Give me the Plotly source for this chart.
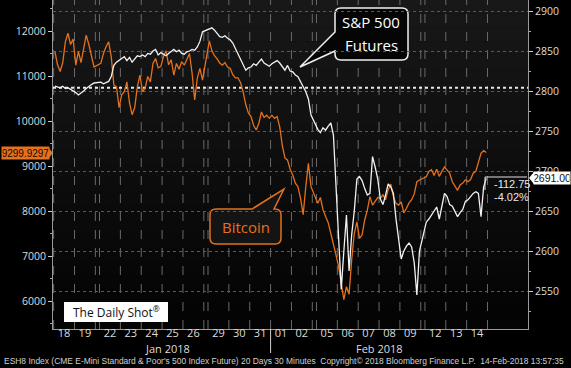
import plotly.graph_objects as go
from datetime import date

# ---------------- data ----------------
trading_days = ["2018-01-18", "2018-01-19", "2018-01-22", "2018-01-23", "2018-01-24",
                "2018-01-25", "2018-01-26", "2018-01-29", "2018-01-30", "2018-01-31",
                "2018-02-01", "2018-02-02", "2018-02-05", "2018-02-06", "2018-02-07",
                "2018-02-08", "2018-02-09", "2018-02-12", "2018-02-13", "2018-02-14"]
day_labels = ["18", "19", "22", "23", "24", "25", "26", "29", "30", "31",
              "01", "02", "05", "06", "07", "08", "09", "12", "13", "14"]
month_labels = ["Jan 2018", "Feb 2018"]
SAMPLES_PER_DAY = 8

# Bitcoin (left axis), 8 readings per trading day
btc = [
    11540, 11250, 11100, 11300, 11760, 11950, 11700, 11820,
    11240, 11540, 11300, 11650, 11910, 11700, 11430, 11200,
    11280, 11500, 11650, 11760, 11430, 10800, 10760, 10300,
    10580, 10650, 10870, 10400, 10140, 10300, 10760, 11020,
    10650, 10730, 10990, 10870, 11280, 11390, 11180, 11210,
    11430, 11560, 11250, 11360, 11020, 11280, 11150, 11320,
    11240, 11390, 11500, 11060, 10470, 10950, 11170, 10910,
    11780, 11560, 11450, 11380, 11290, 11240, 11300, 11200,
    11175, 11030, 10960, 10960, 10850, 10640, 10360, 10180,
    10100, 9900, 9800, 9950, 10200, 10080, 10130, 10060,
    10130, 10060, 10100, 9870, 9450, 9180, 9130, 8930,
    8800, 8620, 8540, 8280, 7920, 8540, 9060, 8540,
    8170, 8300, 8030, 7880, 7740, 7500, 7290, 7020,
    6760, 6400, 6030, 6320, 6150, 6910, 7500, 7760,
    7390, 7470, 7800, 8020, 8320, 8130, 8210, 8300,
    8280, 8360, 8250, 8470, 8600, 8320, 8170, 8130,
    8200, 7960, 8060, 8180, 8250, 8380, 8650, 8690,
    8760, 8880, 8920, 8790, 8930, 8770, 8880, 8980,
    8910, 8840, 8650, 8540, 8460, 8580, 8620, 8690,
    8650, 8700, 8840, 8880, 9060, 9280, 9340, 9299.9297,
]

# S&P 500 futures (right axis), 8 readings per trading day
spx = [
    2806, 2805, 2804, 2806, 2803, 2804, 2802, 2801,
    2798, 2795, 2797, 2800, 2803, 2806, 2808, 2810,
    2811, 2809, 2811, 2812, 2818, 2832, 2836, 2838,
    2840, 2843, 2838, 2842, 2836, 2840, 2844, 2843,
    2845, 2843, 2847, 2846, 2850, 2852, 2845, 2848,
    2846, 2844, 2847, 2850, 2852, 2849, 2851, 2847,
    2846, 2849, 2850, 2852, 2851, 2855, 2862, 2874,
    2878, 2879, 2876, 2872, 2868, 2867, 2869, 2866,
    2864, 2860, 2853, 2845, 2838, 2832, 2826, 2829,
    2830, 2834, 2832, 2836, 2840, 2835, 2833, 2831,
    2834, 2836, 2838, 2835, 2830, 2826, 2832, 2825,
    2824, 2820, 2818, 2812, 2805, 2799, 2790, 2770,
    2752, 2748, 2754, 2751, 2756, 2760, 2745, 2680,
    2610, 2552, 2600, 2645, 2575, 2620, 2650, 2690,
    2693, 2688, 2678, 2670, 2672, 2718, 2705, 2690,
    2665, 2658, 2670, 2684, 2680, 2672, 2640, 2615,
    2590, 2600, 2606, 2610, 2605, 2585, 2545, 2600,
    2636, 2640, 2645, 2651, 2655, 2640, 2655, 2672,
    2668, 2658, 2656, 2650, 2643, 2648, 2652, 2662,
    2664, 2668, 2672, 2674, 2672, 2643, 2680, 2691.00,
]

btc_last = 9299.9297
spx_last = 2691.00
spx_change = "-112.75"
spx_change_pct = "-4.02%"
spx_reference = 2804

btc_ticks = [6000, 7000, 8000, 9000, 10000, 11000, 12000]
spx_ticks = [2550, 2600, 2650, 2700, 2750, 2800, 2850, 2900]

# ---------------- layout geometry ----------------
W, H = 571, 368
ML, MR, MT, MB = 53, 43, 0, 39
PW, PH = W - ML - MR, H - MT - MB
WEEKEND_GAP = 0.2

ORANGE = "#e4711d"
WHITE = "#f2f2f2"
FONT = "Open Sans, Noto Sans, DejaVu Sans, sans-serif"
NARROW = "Liberation Sans, Arial, sans-serif"


def P(x, y):
    """pixel -> paper coords string for shape paths"""
    return f"{(x - ML) / PW:.4f},{1 - (y - MT) / PH:.4f}"


def px(x):
    return (x - ML) / PW


def py(y):
    return 1 - (y - MT) / PH


# session start position of each trading day (weekend gaps added)
ds = [date.fromisoformat(s) for s in trading_days]
starts = []
gap = 0.0
for i, d in enumerate(ds):
    if i > 0 and (d - ds[i - 1]).days > 1:
        gap += WEEKEND_GAP
    starts.append(i + gap)
xs = [starts[d] + (k + 0.5) / SAMPLES_PER_DAY
      for d in range(len(ds)) for k in range(SAMPLES_PER_DAY)]
centers = [s + 0.5 for s in starts]

fig = go.Figure()
fig.add_trace(go.Scatter(x=xs, y=btc, mode="lines", yaxis="y",
                         line=dict(color=ORANGE, width=1.3), hoverinfo="skip"))
fig.add_trace(go.Scatter(x=xs, y=spx, mode="lines", yaxis="y2",
                         line=dict(color=WHITE, width=1.3), hoverinfo="skip"))

shapes = []
# plot background gradient
NB = 24
for i in range(NB):
    c = int(24 - (24 - 4) * i / (NB - 1))
    shapes.append(dict(type="rect", xref="paper", yref="paper", layer="below",
                       x0=0, x1=1, y0=1 - (i + 1) / NB, y1=1 - i / NB,
                       fillcolor=f"rgb({c},{c},{c})", line=dict(width=0)))
# vertical day-boundary dashed lines
vlines = sorted(set([round(s, 3) for s in starts] + [round(s + 1, 3) for s in starts]))
for v in vlines:
    shapes.append(dict(type="line", xref="x", yref="paper", layer="below",
                       x0=v, x1=v, y0=0, y1=1,
                       line=dict(color="#6a6a6a", width=1, dash="dash")))
# reference dotted line
shapes.append(dict(type="line", xref="paper", yref="y2", x0=0, x1=1,
                   y0=spx_reference, y1=spx_reference, layer="below",
                   line=dict(color="#e8e8e8", width=2, dash="dot")))
# month separator
sep = starts[day_labels.index("01")]
shapes.append(dict(type="line", xref="x", yref="paper", x0=sep, x1=sep,
                   y0=py(353), y1=0, line=dict(color="#d0d0d0", width=1)))

# S&P callout bubble
x0, x1, y0, y1, r = 335, 408, 8, 60, 6
sp_path = (f"M{P(x0 + r, y0)} L{P(x1 - r, y0)} Q{P(x1, y0)} {P(x1, y0 + r)} "
           f"L{P(x1, y1 - r)} Q{P(x1, y1)} {P(x1 - r, y1)} L{P(x0 + r, y1)} "
           f"Q{P(x0, y1)} {P(x0, y1 - r)} L{P(x0, 51)} L{P(300, 67)} L{P(x0, 32)} "
           f"L{P(x0, y0 + r)} Q{P(x0, y0)} {P(x0 + r, y0)} Z")
shapes.append(dict(type="path", xref="paper", yref="paper", path=sp_path, layer="between",
                   fillcolor="#050505", line=dict(color="#f0f0f0", width=1.5)))
# Bitcoin callout bubble
x0, x1, y0, y1, r = 210, 281, 209, 244, 6
bt_path = (f"M{P(x0 + r, y0)} L{P(252, y0)} L{P(284, 189)} L{P(274, y0)} "
           f"L{P(x1 - r, y0)} Q{P(x1, y0)} {P(x1, y0 + r)} "
           f"L{P(x1, y1 - r)} Q{P(x1, y1)} {P(x1 - r, y1)} L{P(x0 + r, y1)} "
           f"Q{P(x0, y1)} {P(x0, y1 - r)} L{P(x0, y0 + r)} Q{P(x0, y0)} {P(x0 + r, y0)} Z")
shapes.append(dict(type="path", xref="paper", yref="paper", path=bt_path, layer="between",
                   fillcolor="#141414", line=dict(color=ORANGE, width=1.5)))
# The Daily Shot box
shapes.append(dict(type="rect", xref="paper", yref="paper", layer="between",
                   x0=px(64), x1=px(168), y0=py(322), y1=py(302),
                   fillcolor="#ffffff", line=dict(width=0)))
# pointers of the last-price tags
shapes.append(dict(type="path", xref="paper", yref="paper", layer="between",
                   path=f"M{P(48, 147)} L{P(53, 153)} L{P(48, 159)} Z",
                   fillcolor=ORANGE, line=dict(width=0)))
shapes.append(dict(type="path", xref="paper", yref="paper", layer="between",
                   path=f"M{P(534, 172)} L{P(529, 178)} L{P(534, 184)} Z",
                   fillcolor="#ffffff", line=dict(width=0)))
# change bracket
shapes.append(dict(type="path", xref="paper", yref="paper",
                   path=f"M{P(485, 190)} L{P(485, 177)} L{P(527, 177)}",
                   line=dict(color="#e0e0e0", width=1)))


def label(x, y, text, size, color, family=FONT, xanchor="center"):
    return dict(xref="paper", yref="paper", x=px(x), y=py(y), text=text,
                xanchor=xanchor, yanchor="middle", showarrow=False,
                font=dict(family=family, size=size, color=color))


left_tag = label(25, 153, f"{btc_last:.4f}", 10, "#1a0800", family=NARROW)
left_tag.update(bgcolor=ORANGE, width=46, height=11, borderpad=0.5)
right_tag = label(551.5, 178, f"{spx_last:.2f}", 10.5, "#111111", family=NARROW)
right_tag.update(bgcolor="#ffffff", width=35, height=11, borderpad=0.5)

annotations = [
    label(371, 22, "S&P 500", 15, "#ffffff"),
    label(371, 45, "Futures", 15, "#ffffff"),
    label(246, 227, "Bitcoin", 15, ORANGE),
    label(116, 312, "The Daily Shot<sup>®</sup>", 12, "#111111"),
    left_tag,
    right_tag,
    label(492, 184, spx_change, 11, "#e8e8e8", family=NARROW, xanchor="left"),
    label(492, 197, spx_change_pct, 11, "#e8e8e8", family=NARROW, xanchor="left"),
    label(167, 348, month_labels[0], 11, "#dddddd"),
    label(379, 348, month_labels[1], 11, "#dddddd"),
    label(2, 361, "ESH8 Index (CME E-Mini Standard & Poor's 500 Index Future) 20 Days 30 Minutes  "
                  "Copyright© 2018 Bloomberg Finance L.P.  14-Feb-2018 13:57:35",
          8.45, "#cfcfcf", family=NARROW, xanchor="left"),
]

axis_font = dict(family=FONT, size=10.5, color="#dcdcdc")
fig.update_layout(
    width=W, height=H,
    margin=dict(l=ML, r=MR, t=MT, b=MB, autoexpand=False),
    paper_bgcolor="#000000", plot_bgcolor="#0c0c0c",
    showlegend=False,
    xaxis=dict(range=[-0.03, 22.74], tickvals=centers, ticktext=day_labels,
               tickfont=dict(family=FONT, size=11, color="#dcdcdc"),
               showgrid=False, zeroline=False, automargin=False,
               ticklen=0, ticklabelstandoff=-6,
               showline=True, linecolor="#9a9a9a", linewidth=1, ticks="", fixedrange=True),
    yaxis=dict(range=[5378, 12689], tickvals=btc_ticks, tickformat="d", tickfont=axis_font,
               showgrid=False, zeroline=False, showline=True, linecolor="#9a9a9a",
               automargin=False,
               ticks="outside", ticklen=4, tickcolor="#cccccc",
               minor=dict(dtick=500, tick0=0, ticks="outside", ticklen=2, tickcolor="#aaaaaa"),
               fixedrange=True),
    yaxis2=dict(range=[2502.5, 2913.75], tickvals=spx_ticks, tickformat="d", tickfont=axis_font,
                overlaying="y", side="right", showgrid=True, gridcolor="#5a5a5a",
                griddash="dot", zeroline=False, showline=True, linecolor="#9a9a9a",
                automargin=False,
                ticks="outside", ticklen=4, tickcolor="#cccccc",
                minor=dict(dtick=25, tick0=0, ticks="outside", ticklen=2, tickcolor="#aaaaaa"),
                fixedrange=True),
    shapes=shapes,
    annotations=annotations,
)

fig.write_html("out.html", config={"displayModeBar": False},
               post_script="document.body.style.margin='0';document.body.style.background='#000';")
